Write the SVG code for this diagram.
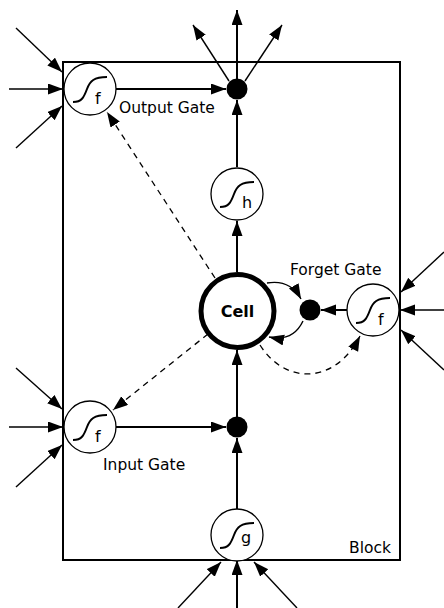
<svg xmlns="http://www.w3.org/2000/svg" xmlns:xlink="http://www.w3.org/1999/xlink" width="444" height="608" viewBox="0 0 444 608">
<style>
.blk{fill:none;stroke:#000;stroke-width:2}
.main{fill:none;stroke:#000;stroke-width:2}
.thin{fill:none;stroke:#000;stroke-width:1.4}
.dash{fill:none;stroke:#000;stroke-width:1.3;stroke-dasharray:6,5}
.gc{fill:#fff;stroke:#000;stroke-width:1.3}
.sig{fill:none;stroke:#000;stroke-width:2}
.sub{font-family:"DejaVu Sans",sans-serif;font-size:16px;fill:#000}
.lbl{font-family:"DejaVu Sans",sans-serif;font-size:15.5px;fill:#000}
.cell{font-family:"DejaVu Sans",sans-serif;font-size:16px;font-weight:bold;fill:#000}
.dot{fill:#000}
</style>
<defs>
<marker id="ah" markerUnits="userSpaceOnUse" markerWidth="16" markerHeight="12" refX="15" refY="5.5" orient="auto">
<path d="M0,0 L15,5.5 L0,11 z" fill="#000"/>
</marker>
<g id="gate">
<circle r="26" class="gc"/>
<path class="sig" d="M-17,13 C-8,13 -6,8 -3,0 S4,-12 17,-12"/>
</g>
</defs>
<rect id="block" class="blk" x="63" y="62" width="337" height="498"/>
<text class="lbl" x="349" y="553">Block</text>
<g id="connectors">
<path class="main" d="M237,79 L237,10" marker-end="url(#ah)"/>
<path class="thin" d="M229,81 L193,25" marker-end="url(#ah)"/>
<path class="thin" d="M245,81 L282,25" marker-end="url(#ah)"/>
<path class="main" d="M116,89 L226,89" marker-end="url(#ah)"/>
<path class="main" d="M237,167 L237,100" marker-end="url(#ah)"/>
<path class="main" d="M237,272 L237,221" marker-end="url(#ah)"/>
<path class="main" d="M237,417 L237,350" marker-end="url(#ah)"/>
<path class="main" d="M237,509 L237,438" marker-end="url(#ah)"/>
<path class="main" d="M116,427 L226,427" marker-end="url(#ah)"/>
<path class="main" d="M347,310 L321,310" marker-end="url(#ah)"/>
<path class="thin" d="M16,28 L62,72" marker-end="url(#ah)"/>
<path class="thin" d="M9,89 L63,89" marker-end="url(#ah)"/>
<path class="thin" d="M16,148 L62,106" marker-end="url(#ah)"/>
<path class="thin" d="M16,368 L62,409" marker-end="url(#ah)"/>
<path class="thin" d="M9,427 L63,427" marker-end="url(#ah)"/>
<path class="thin" d="M16,487 L62,445" marker-end="url(#ah)"/>
<path class="thin" d="M444,252 L401,292" marker-end="url(#ah)"/>
<path class="thin" d="M444,310 L400,310" marker-end="url(#ah)"/>
<path class="thin" d="M444,370 L401,330" marker-end="url(#ah)"/>
<path class="thin" d="M178,608 L221,562" marker-end="url(#ah)"/>
<path class="main" d="M237,608 L237,560" marker-end="url(#ah)"/>
<path class="thin" d="M297,608 L254,562" marker-end="url(#ah)"/>
<path class="thin" d="M267,283 Q290,279 301,299" marker-end="url(#ah)"/>
<path class="thin" d="M303,321 Q293,342 269,337" marker-end="url(#ah)"/>
<path class="dash" d="M215,278 L107,112" marker-end="url(#ah)"/>
<path class="dash" d="M208,334 L113,410" marker-end="url(#ah)"/>
<path class="dash" d="M260,345 C285,385 335,385 360,336" marker-end="url(#ah)"/>
</g>
<g id="output-gate">
<use xlink:href="#gate" x="90" y="89"/>
<text class="sub" x="95" y="104">f</text>
<text class="lbl" x="119" y="113">Output Gate</text>
</g>
<g id="output-mult"><circle class="dot" cx="237" cy="89" r="10.5"/></g>
<g id="h-squash">
<use xlink:href="#gate" x="237" y="194"/>
<text class="sub" x="242" y="208">h</text>
</g>
<g id="cell">
<circle cx="237.5" cy="311" r="36.5" fill="#fff" stroke="#000" stroke-width="5"/>
<text class="cell" x="237.5" y="317" text-anchor="middle">Cell</text>
</g>
<g id="forget-mult"><circle class="dot" cx="310" cy="310" r="10.5"/></g>
<g id="forget-gate">
<use xlink:href="#gate" x="373" y="310"/>
<text class="sub" x="378" y="325">f</text>
<text class="lbl" x="290" y="275">Forget Gate</text>
</g>
<g id="input-gate">
<use xlink:href="#gate" x="90" y="427"/>
<text class="sub" x="95" y="442">f</text>
<text class="lbl" x="103" y="470">Input Gate</text>
</g>
<g id="input-mult"><circle class="dot" cx="237" cy="427" r="10.5"/></g>
<g id="g-squash">
<use xlink:href="#gate" x="237" y="535"/>
<text class="sub" x="241" y="543">g</text>
</g>
</svg>
